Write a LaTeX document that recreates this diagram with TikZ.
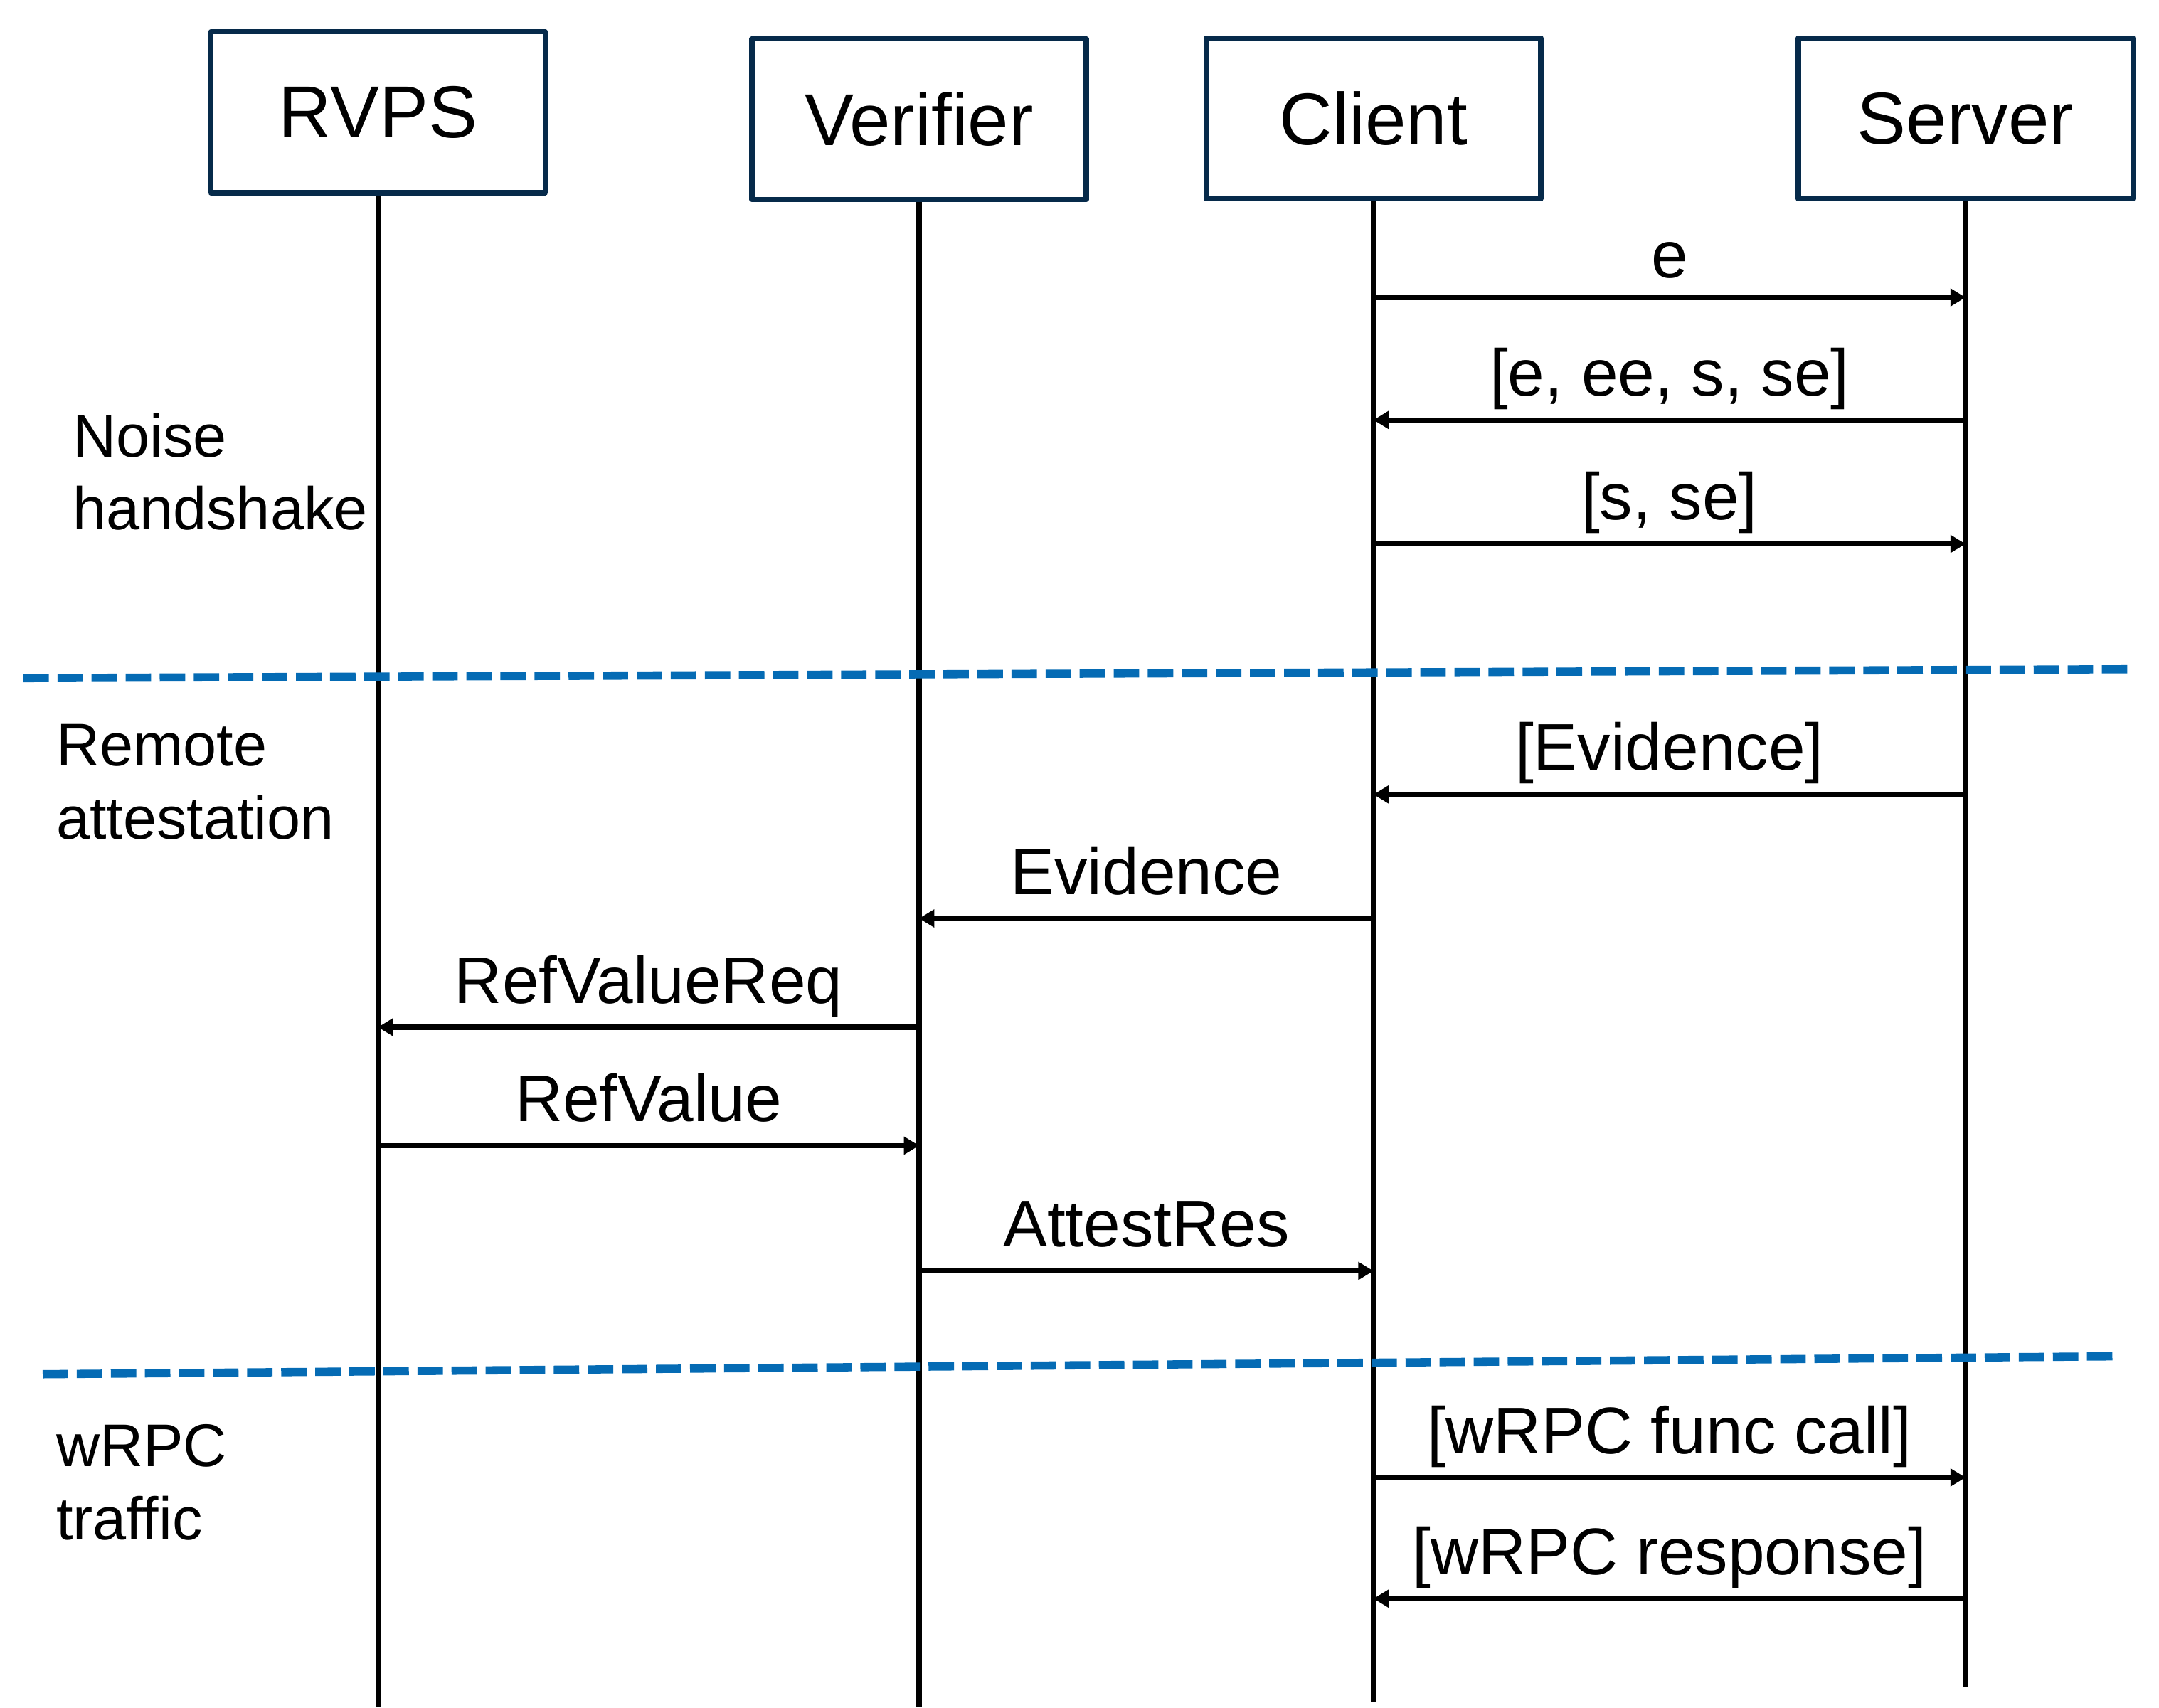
\documentclass[tikz,border=0pt]{standalone}
\usepackage{fontspec}
\setmainfont{Liberation Sans}
\usetikzlibrary{arrows.meta}
\definecolor{boxnavy}{RGB}{6,42,74}
\definecolor{sepblue}{RGB}{5,107,180}
\begin{document}
\begin{tikzpicture}[x=0.02cm,y=-0.02cm,
  actor/.style={draw=boxnavy, line width=2.15pt, line join=round, minimum width=4.86cm, minimum height=2.34cm, inner sep=0pt, font=\fontsize{30.4}{36}\selectfont},
  lifeline/.style={line width=2.15pt, black},
  msg/.style={line width=2.15pt, black, -{Triangle[length=0.22cm,width=0.25cm]}},
  msglab/.style={anchor=base, inner sep=0pt, font=\fontsize{27.3}{33}\selectfont},
  phase/.style={anchor=base west, inner sep=0pt, font=\fontsize{24.9}{30.2}\selectfont},
  sepline/.style={sepblue, line width=3.4pt, dash pattern=on 0.37cm off 0.125cm}]
\useasboundingbox (0,0) rectangle (1568,1240);

% actors
\node[actor] (rvps) at (274.5,81.5) {RVPS};
\node[actor] (verifier) at (667.5,86.5) {Verifier};
\node[actor] (client) at (997.5,86) {Client};
\node[actor] (server) at (1427.5,86) {Server};

% lifeline ends
\coordinate (rvpsEnd) at (274.5,1240);
\coordinate (verifierEnd) at (667.5,1240);
\coordinate (clientEnd) at (997.5,1236);
\coordinate (serverEnd) at (1427.5,1225);

\draw[lifeline] (rvps.south) -- (rvpsEnd);
\draw[lifeline] (verifier.south) -- (verifierEnd);
\draw[lifeline] (client.south) -- (clientEnd);
\draw[lifeline] (server.south) -- (serverEnd);

% separators
\coordinate (sepAa) at (17,492.5);
\coordinate (sepAb) at (1550,486);
\coordinate (sepBa) at (31,998);
\coordinate (sepBb) at (1538,985);
\draw[sepline] (sepAa) -- (sepAb);
\draw[sepline] (sepBa) -- (sepBb);

% phase labels
\node[phase] (noise) at (52.5,331.7) {\begin{tabular}[t]{@{}l@{}}Noise\\handshake\end{tabular}};
\node[phase] (remote) at (40.5,556.3) {\begin{tabular}[t]{@{}l@{}}Remote\\attestation\end{tabular}};
\node[phase] (wrpc) at (40.5,1065) {\begin{tabular}[t]{@{}l@{}}wRPC\\traffic\end{tabular}};

% messages
\draw[msg] (client.south |- 0,216) -- (server.south |- 0,216);
\node[msglab] (m1) at (1212.5,202) {e};

\draw[msg] (server.south |- 0,305) -- (client.south |- 0,305);
\node[msglab] (m2) at (1212.5,287.5) {[e, ee, s, se]};

\draw[msg] (client.south |- 0,395) -- (server.south |- 0,395);
\node[msglab] (m3) at (1212.5,377.5) {[s, se]};

\draw[msg] (server.south |- 0,577) -- (client.south |- 0,577);
\node[msglab] (m4) at (1212.5,559.5) {[Evidence]};

\draw[msg] (client.south |- 0,667) -- (verifier.south |- 0,667);
\node[msglab] (m5) at (832.5,649.5) {Evidence};

\draw[msg] (verifier.south |- 0,746) -- (rvps.south |- 0,746);
\node[msglab] (m6) at (471,728.5) {RefValueReq};

\draw[msg] (rvps.south |- 0,832) -- (verifier.south |- 0,832);
\node[msglab] (m7) at (471,814.5) {RefValue};

\draw[msg] (verifier.south |- 0,923) -- (client.south |- 0,923);
\node[msglab] (m8) at (832.5,905.5) {AttestRes};

\draw[msg] (client.south |- 0,1073) -- (server.south |- 0,1073);
\node[msglab] (m9) at (1212.5,1055.5) {[wRPC func call]};

\draw[msg] (server.south |- 0,1161) -- (client.south |- 0,1161);
\node[msglab] (m10) at (1212.5,1143.5) {[wRPC response]};
\end{tikzpicture}
\end{document}
